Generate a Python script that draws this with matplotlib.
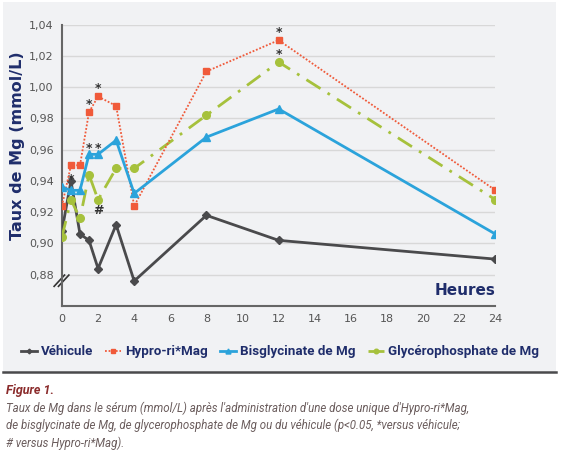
import numpy as np
import matplotlib.pyplot as plt
from matplotlib.patches import Rectangle
from matplotlib.lines import Line2D

# heures
hours = [0, 0.5, 1, 1.5, 2, 3, 4, 8, 12, 24]

vehicule = [0.908, 0.940, 0.906, 0.902, 0.884, 0.912, 0.876, 0.918, 0.902, 0.890]
hypro = [0.924, 0.950, 0.950, 0.984, 0.994, 0.988, 0.924, 1.010, 1.030, 0.934]
bisgly = [0.936, 0.934, 0.934, 0.957, 0.957, 0.966, 0.932, 0.968, 0.986, 0.906]
glycero = [0.904, 0.928, 0.916, 0.944, 0.928, 0.948, 0.948, 0.982, 1.016, 0.928]

labels = ['Véhicule', 'Hypro-ri*Mag', 'Bisglycinate de Mg', 'Glycérophosphate de Mg']

yticks = [0.88, 0.90, 0.92, 0.94, 0.96, 0.98, 1.00, 1.02, 1.04]
xticks = list(range(0, 25, 2))

# annotations (x, y, text)
marks = [(0.5, 0.941, '*'), (1.5, 0.989, '*'), (2, 0.999, '*'),
         (1.5, 0.961, '*'), (2, 0.961, '*'), (2, 0.921, '#'),
         (12, 1.035, '*'), (12, 1.021, '*')]

navy = '#1f2d6b'
c_veh = '#4a4a4c'
c_hyp = '#f05a3a'
c_bis = '#2ba3db'
c_gly = '#a6c13c'
narrow = ['Roboto', 'DejaVu Sans']

fig = plt.figure(figsize=(5.63, 4.63), dpi=100)
fig.patches.append(Rectangle((0.005, 0.195), 0.983, 0.8, transform=fig.transFigure,
                             facecolor='#f1f2f4', edgecolor='none', zorder=-10))
fig.lines.append(Line2D([0.005, 0.988], [0.196, 0.196], transform=fig.transFigure,
                        color='#4a4a4c', lw=1.8))

ax = fig.add_axes([0.110, 0.339, 0.770, 0.608])
ax.set_facecolor('none')

ax.plot(hours, vehicule, color=c_veh, lw=2, marker='D', ms=4, label=labels[0], zorder=3)
ax.plot(hours, hypro, color=c_hyp, lw=1.3, ls=(0, (1, 1)), marker='s', ms=5,
        label=labels[1], zorder=4)
ax.plot(hours, bisgly, color=c_bis, lw=2, marker='^', ms=6, label=labels[2], zorder=5)
ax.plot(hours, glycero, color=c_gly, lw=2, ls=(0, (6, 3, 1, 3)), marker='o', ms=5.5,
        label=labels[3], zorder=3)

for x, y, t in marks:
    ax.text(x, y, t, ha='center', va='center', fontsize=9, color='#333333', fontweight='bold')

ax.set_xlim(0, 24)
ax.set_ylim(0.86, 1.04)
ax.set_yticks(yticks)
ax.set_yticklabels([('%.2f' % v).replace('.', ',') for v in yticks])
ax.set_xticks(xticks)
ax.tick_params(length=0, labelsize=8, colors='#555555', pad=6)
ax.yaxis.grid(True, color='#d8d8d8', lw=1)
ax.set_axisbelow(True)
for s in ['top', 'right']:
    ax.spines[s].set_visible(False)
for s in ['left', 'bottom']:
    ax.spines[s].set_color('#666666')
    ax.spines[s].set_linewidth(1.5)

# axis break
for dx in [-0.006, 0.004]:
    ax.plot([-0.012 + dx, 0.012 + dx], [0.07, 0.11], transform=ax.transAxes,
            color='#333333', lw=1.2, clip_on=False)

ax.set_ylabel('Taux de Mg (mmol/L)', fontsize=11.5, fontweight='bold', color=navy)
ax.yaxis.set_label_coords(-0.085, 0.57)
ax.text(1.0, 0.03, 'Heures', transform=ax.transAxes, ha='right', va='bottom',
        fontsize=11, fontweight='bold', color=navy)

leg = fig.legend(loc='center', bbox_to_anchor=(0.497, 0.24), ncol=4, frameon=False,
                 prop={'family': narrow, 'weight': 'bold', 'size': 9.6},
                 handlelength=1.2, handletextpad=0.3, columnspacing=0.9,
                 markerscale=0.6)
for t in leg.get_texts():
    t.set_color(navy)

fig.text(0.01, 0.148, 'Figure 1.', fontsize=9, fontweight='bold', fontstyle='italic',
         color='#8b2c2c', family=narrow)
cap = ("Taux de Mg dans le sérum (mmol/L) après l'administration d'une dose unique d'Hypro-ri*Mag,\n"
       "de bisglycinate de Mg, de glycerophosphate de Mg ou du véhicule (p<0.05, *versus véhicule;\n"
       "# versus Hypro-ri*Mag).")
fig.text(0.01, 0.133, cap, fontsize=8.3, fontstyle='italic', color='#6b5d5d', va='top',
         linespacing=1.4, family=narrow)

fig.savefig('out.png', dpi=100)
